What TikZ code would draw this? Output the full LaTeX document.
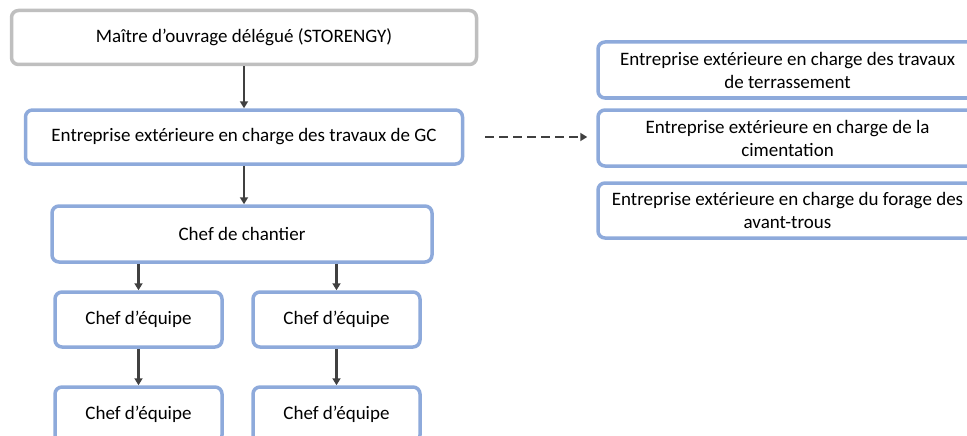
\documentclass[tikz,border=0pt]{standalone}
\usepackage{fontspec}
\setmainfont{Carlito}
\usetikzlibrary{arrows.meta}

\begin{document}
\begin{tikzpicture}[x=1pt,y=-1pt,
          bluebox/.style={rectangle, rounded corners=7pt, draw=boxblue, fill=white,
            line width=3.5pt, align=center, inner sep=0pt},
          greybox/.style={rectangle, rounded corners=7pt, draw=boxgrey, fill=white,
            line width=3.5pt, align=center, inner sep=0pt},
          link/.style={draw=arrowgrey, line width=2.5pt,
            -{Triangle[length=7pt,width=8pt]}}]
        \definecolor{boxblue}{HTML}{8EAADB}
        \definecolor{boxgrey}{HTML}{BFBFBF}
        \definecolor{arrowgrey}{HTML}{404040}
        \fontsize{19}{23}\selectfont

        \useasboundingbox (0,0) rectangle (967,436);
        \clip (0,0) rectangle (967,436);

        \node[greybox, minimum width=465pt, minimum height=54pt] (moa)   at (244,37.5) {Maître d’ouvrage délégué (STORENGY)};
        \node[bluebox, minimum width=437pt, minimum height=54pt] (gc)    at (244,137)  {Entreprise extérieure en charge des travaux de GC};
        \node[bluebox, minimum width=380pt, minimum height=56pt] (chef)  at (242,234)  {Chef de chantier};

        \node[bluebox, minimum width=167pt, minimum height=55pt] (eqA1)  at (138.5,319.5) {Chef d’équipe};
        \node[bluebox, minimum width=167pt, minimum height=55pt] (eqB1)  at (336.5,319.5) {Chef d’équipe};
        \node[bluebox, minimum width=167pt, minimum height=55pt] (eqA2)  at (138.5,414.5) {Chef d’équipe};
        \node[bluebox, minimum width=167pt, minimum height=55pt] (eqB2)  at (336.5,414.5) {Chef d’équipe};

        \node[bluebox, minimum width=379pt, minimum height=56pt] (terr)  at (787.5,70)    {Entreprise extérieure en charge des travaux\\de terrassement};
        \node[bluebox, minimum width=379pt, minimum height=56pt] (cim)   at (787.5,138)   {Entreprise extérieure en charge de la\\cimentation};
        \node[bluebox, minimum width=379pt, minimum height=55pt] (forage) at (787.5,210.5) {Entreprise extérieure en charge du forage des\\avant-trous};

        \draw[link] (moa) -- (gc);
        \draw[link] (gc.south) -- (gc.south |- chef.north);
        \draw[link] (eqA1.north |- chef.south) -- (eqA1);
        \draw[link] (eqB1.north |- chef.south) -- (eqB1);
        \draw[link] (eqA1) -- (eqA2);
        \draw[link] (eqB1) -- (eqB2);

        \draw[link, dash pattern=on 9pt off 5pt, shorten <=21pt, shorten >=9pt] (gc.east) -- (gc.east -| cim.west);

      \end{tikzpicture}
\end{document}
